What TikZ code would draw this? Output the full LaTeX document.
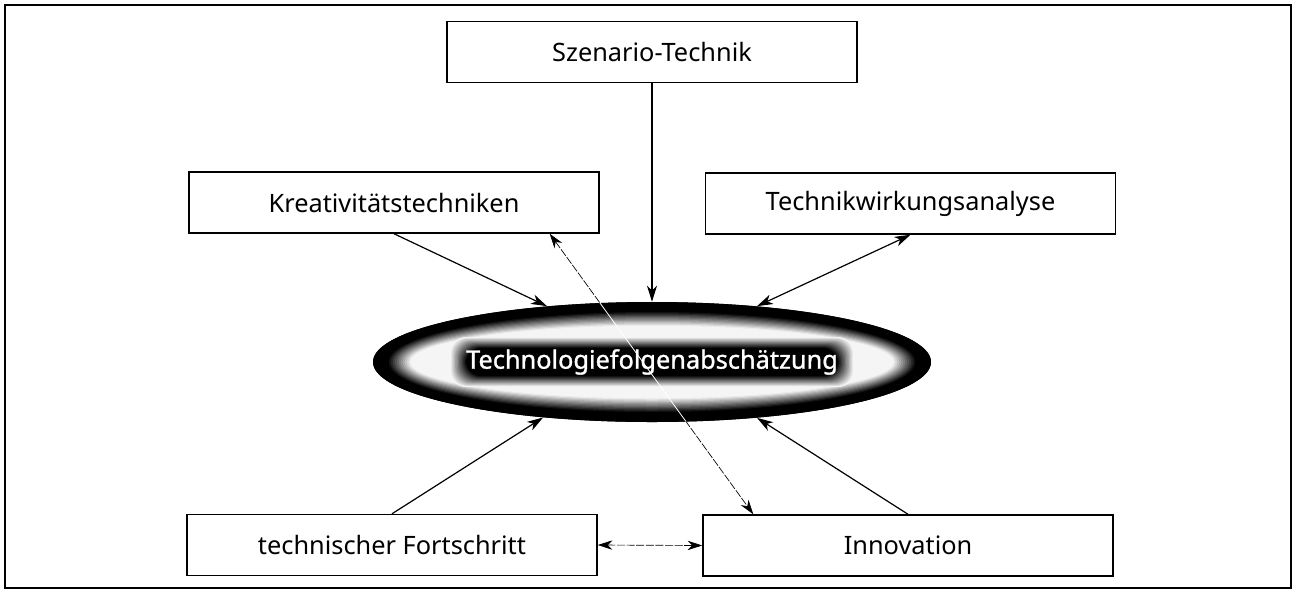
\documentclass[tikz,border=0pt]{standalone}
\usepackage{fontspec}
\setmainfont{Noto Sans}
\newfontfamily\tfafont[FakeBold=1.2]{Noto Sans}
\usetikzlibrary{shapes.geometric,arrows.meta,calc}
\tikzset{
  methodbox/.style={draw, line width=1.1pt, minimum width=307.5pt, minimum height=45.75pt, inner sep=0pt, font=\fontsize{19}{22}\selectfont},
  tfaellipse/.style={ellipse, fill=black, minimum width=418.5pt, minimum height=90pt, inner sep=0pt},
  tfalabel/.style={inner sep=0pt, text=white, font=\tfafont\fontsize{19}{22}\selectfont},
  link/.style={line width=0.9pt, -{Stealth[length=12pt,width=7.5pt,inset=3.5pt]}},
  duallink/.style={line width=0.9pt, {Stealth[length=12pt,width=7.5pt,inset=3.5pt]}-{Stealth[length=12pt,width=7.5pt,inset=3.5pt]}},
  thinlink/.style={line width=0.5pt, dash pattern=on 6pt off 1.2pt, {Stealth[length=11pt,width=7pt,inset=3.5pt]}-{Stealth[length=11pt,width=7pt,inset=3.5pt]}}
}
\begin{document}
\begin{tikzpicture}[x=0.75pt,y=0.75pt,yscale=-1,xscale=1]
\useasboundingbox (0,0) rectangle (1294,590);

%Shape: Frame
\draw [line width=1.5pt] (5,5) rectangle (1291,588) ;
%Shape: Rectangles
\node [methodbox] (szen) at (652,52) {Szenario-Technik};
\node [methodbox] (kreat) at (394,202.5) {Kreativitätstechniken};
\node [methodbox] (tech) at (910.5,203.5) {Technikwirkungsanalyse};
\node [methodbox] (fort) at (392,545) {technischer Fortschritt};
\node [methodbox] (inno) at (908,545.5) {Innovation};

%Straight Lines: thin link behind the ellipse
\draw [thinlink] ($(kreat.south east)+(-50,0)$) coordinate (kdash) -- ($(inno.north west)+(51,0)$) coordinate (idash) ;

%Shape: Ellipse (black rim fading to white)
\node [tfaellipse] (tfa) at (652,362) {};
\foreach \k in {0,...,40} {
  \pgfmathsetmacro\t{\k/40}
  \pgfmathsetmacro\rx{279-\t*79}
  \pgfmathsetmacro\ry{60-\t*50}
  \pgfmathsetmacro\w{min(96,max(0,(\t-0.18)*340))}
  \fill [white!\w!black] (tfa.center) ellipse [x radius=\rx, y radius=\ry] ;
}
%dark glow behind the label
\foreach \k in {0,...,12} {
  \pgfmathsetmacro\hx{202-\k*1.3}
  \pgfmathsetmacro\hy{25-\k*0.9}
  \pgfmathsetmacro\w{96-\k*8}
  \fill [white!\w!black, rounded corners=12pt] ($(tfa.center)+(-\hx,-\hy)$) rectangle ($(tfa.center)+(\hx,\hy)$) ;
}
\begin{scope}
\clip (tfa.center) ellipse [x radius=279, y radius=60] ;
\draw [white, line width=0.6pt] (kdash) -- (idash) ;
\end{scope}
\node [tfalabel] (tfatext) at (tfa.center) {Technologiefolgenabschätzung};

%Straight Lines
\draw [link] (szen.south) -- (tfa.north) ;
\draw [link] (kreat.south) -- (tfa.152) ;
\draw [duallink] (tech.south) -- (tfa.28) ;
\draw [link] (fort.north) -- (tfa.207) ;
\draw [link] (inno.north) -- (tfa.332) ;
\draw [thinlink] (fort.east) -- (inno.west) ;

\end{tikzpicture}
\end{document}
